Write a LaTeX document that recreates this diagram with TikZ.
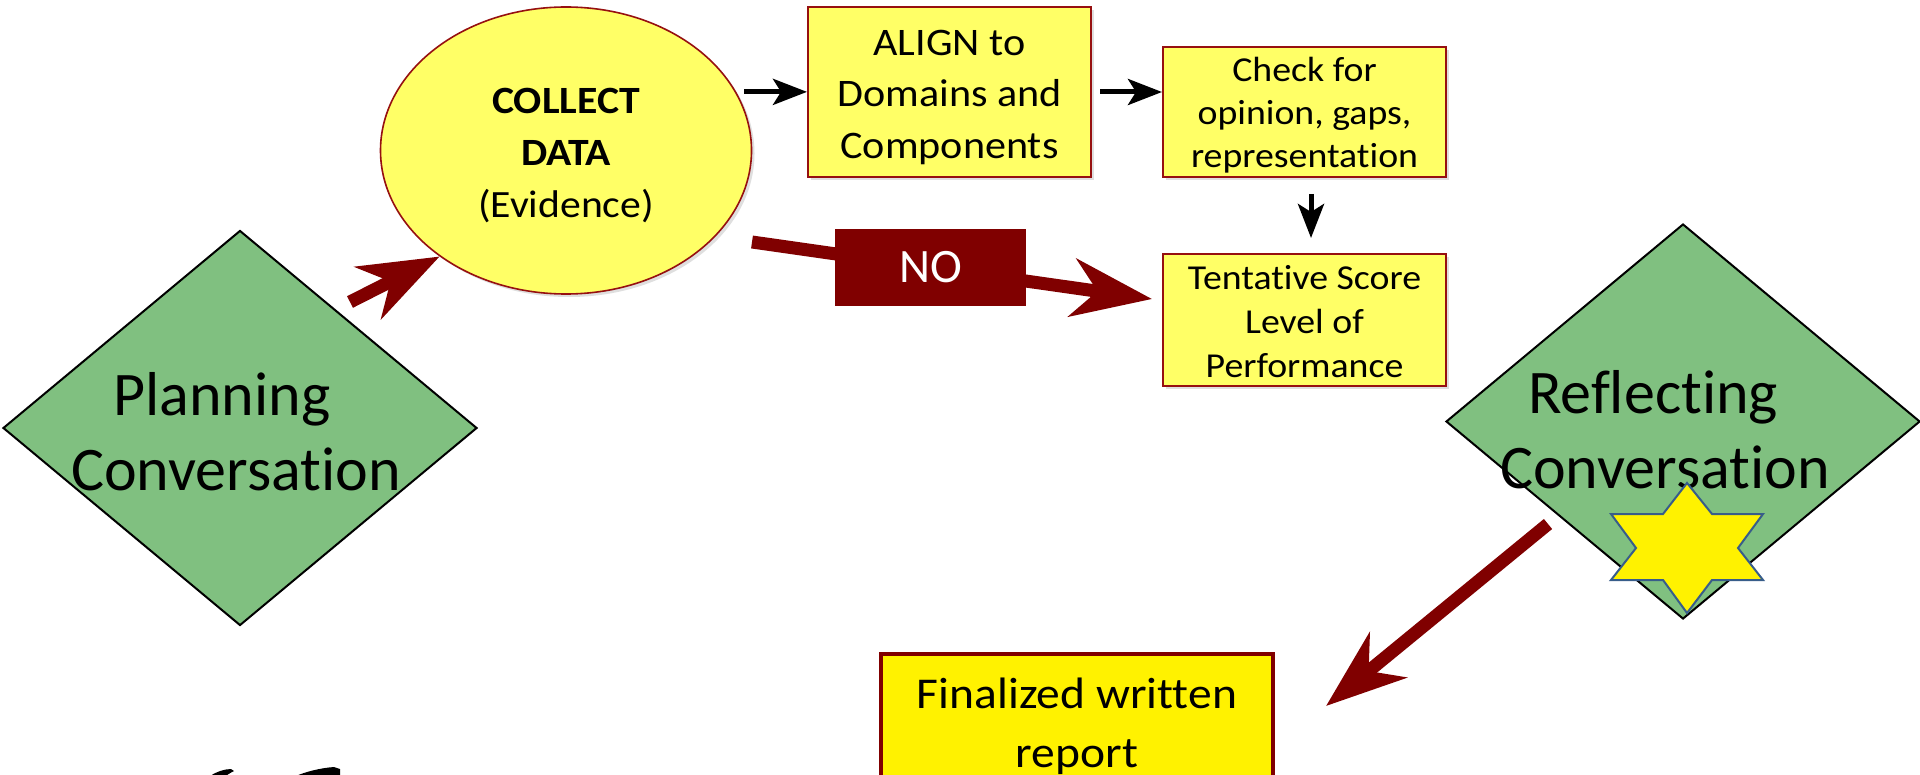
\documentclass[tikz,border=0pt]{standalone}
\usepackage{fontspec}
\setmainfont{Carlito}[Ligatures=NoCommon]
\newfontfamily\boxfont{Carlito}[FakeStretch=1.08,Ligatures=NoCommon]
\usetikzlibrary{shapes.geometric,arrows.meta,shadows}
\definecolor{dgreen}{RGB}{128,192,128}
\definecolor{lyellow}{RGB}{255,255,102}
\definecolor{bred}{RGB}{150,16,16}
\definecolor{ared}{RGB}{128,0,0}
\definecolor{starblue}{RGB}{56,93,138}
\newcommand{\tophold}[1]{\rule{0pt}{#1}}
\newcommand{\bothold}[1]{\rule[-#1]{0pt}{0pt}}
\begin{document}
\begin{tikzpicture}[x=0.5pt,y=-0.5pt,
  diam/.style={diamond, draw=black, line width=1pt, fill=dgreen,
    minimum width=237pt, minimum height=197.5pt, inner sep=0pt},
  dtext/.style={align=center, inner sep=0pt, font=\fontsize{31}{37.5}\selectfont},
  shad/.style={drop shadow={opacity=0.25, shadow xshift=1.5pt, shadow yshift=-1.5pt}},
  ybox/.style={rectangle, draw=bred, line width=1pt, fill=lyellow, inner sep=0pt,
    align=center, shad},
  blk/.style={draw=black, line width=2.5pt, -{Stealth[length=17pt,width=13pt,inset=4pt]}},
  redarr/.style={draw=ared, line width=6.5pt, -{Stealth[length=40pt,width=29pt,inset=12.5pt]}},
  nobox/.style={rectangle, fill=ared, text=white, inner sep=0pt,
    minimum width=95.5pt, minimum height=38.5pt, font=\fontsize{24}{28}\selectfont}
]
\useasboundingbox (0,0) rectangle (1920,775);
\fill[white] (0,0) rectangle (1920,775);
\clip (0,0) rectangle (1920,775);

% diamonds
\node[diam] (plan) at (240,428) {};
\node[dtext] (plantext) at (236,437.5) {\strut Planning\rule{14pt}{0pt}\\\strut Conversation};
\node[diam] (refl) at (1683,421.5) {};
\node[dtext] (refltext) at (1665,435.5) {\strut Reflecting\rule{12pt}{0pt}\\\strut Conversation};

% star
\filldraw[fill=yellow, draw=starblue, line width=1pt]
  (1687,483) -- (1712,514) -- (1763,514) -- (1738,548) -- (1763,580) -- (1712,580)
  -- (1687,613) -- (1663,580) -- (1611,580) -- (1636,548) -- (1611,514) -- (1663,514) -- cycle;

% ellipse
\node[ellipse, draw=bred, line width=0.8pt, fill=lyellow, minimum width=185.5pt,
  minimum height=143.5pt, inner sep=0pt, align=center, shad,
  font=\boxfont\fontsize{19.3}{26}\selectfont] (collect) at (566,150.5)
  {\tophold{20.5pt}\textbf{COLLECT}\\\textbf{DATA}\\(Evidence)\bothold{5pt}};

% boxes
\node[ybox, minimum width=141.5pt, minimum height=85pt,
  font=\boxfont\fontsize{19.5}{25.75}\selectfont] (align) at (949.5,92)
  {\tophold{20pt}ALIGN to\\Domains and\\Components\bothold{5pt}};
\node[ybox, minimum width=141.5pt, minimum height=65pt,
  font=\boxfont\fontsize{17.5}{21.5}\selectfont] (check) at (1304.5,112)
  {\tophold{17pt}Check for\\opinion, gaps,\\representation\bothold{4pt}};
\node[ybox, minimum width=141.5pt, minimum height=66pt,
  font=\boxfont\fontsize{17.5}{22}\selectfont] (tent) at (1304.5,320)
  {\tophold{17pt}Tentative Score\\Level of\\Performance\bothold{4pt}};
\node[rectangle, draw=ared, line width=2pt, fill=yellow, inner sep=0pt, align=center,
  minimum width=196pt, minimum height=73pt,
  font=\boxfont\fontsize{22}{29.5}\selectfont] (final) at (1077,727)
  {\tophold{16.5pt}Finalized written\\report\bothold{6pt}};

% black arrows
\draw[blk, shorten <=4pt] (collect.19) -- (collect.19 -| align.west);
\draw[blk, shorten <=4pt] (align.east) -- (align.east -| check.west);
\draw[blk, shorten <=8pt, shorten >=7.5pt] ([xshift=3.25pt]check.south) -- ([xshift=3.25pt]tent.north);

% red arrows
\coordinate (r1s) at (350,302);
\draw[redarr] (r1s) -- (collect.220);
\coordinate (nos) at (752,242);
\coordinate (noe) at (1152,299);
\draw[redarr] (nos) -- node[pos=0.446, nobox] (no) {NO} (noe);
\coordinate (r3s) at (1548,524);
\coordinate (r3e) at (1326,706);
\draw[redarr] (r3s) -- (r3e);

% partial black strokes at the bottom edge
\fill[black] (210,776) .. controls (216,772) and (224,769) .. (231,769)
  -- (234,771) .. controls (230,773) and (227,775) .. (226,776) -- cycle;
\fill[black] (296,776) .. controls (305,772) and (320,768) .. (334,767)
  -- (340,769) -- (340,776) -- cycle;
\end{tikzpicture}
\end{document}
